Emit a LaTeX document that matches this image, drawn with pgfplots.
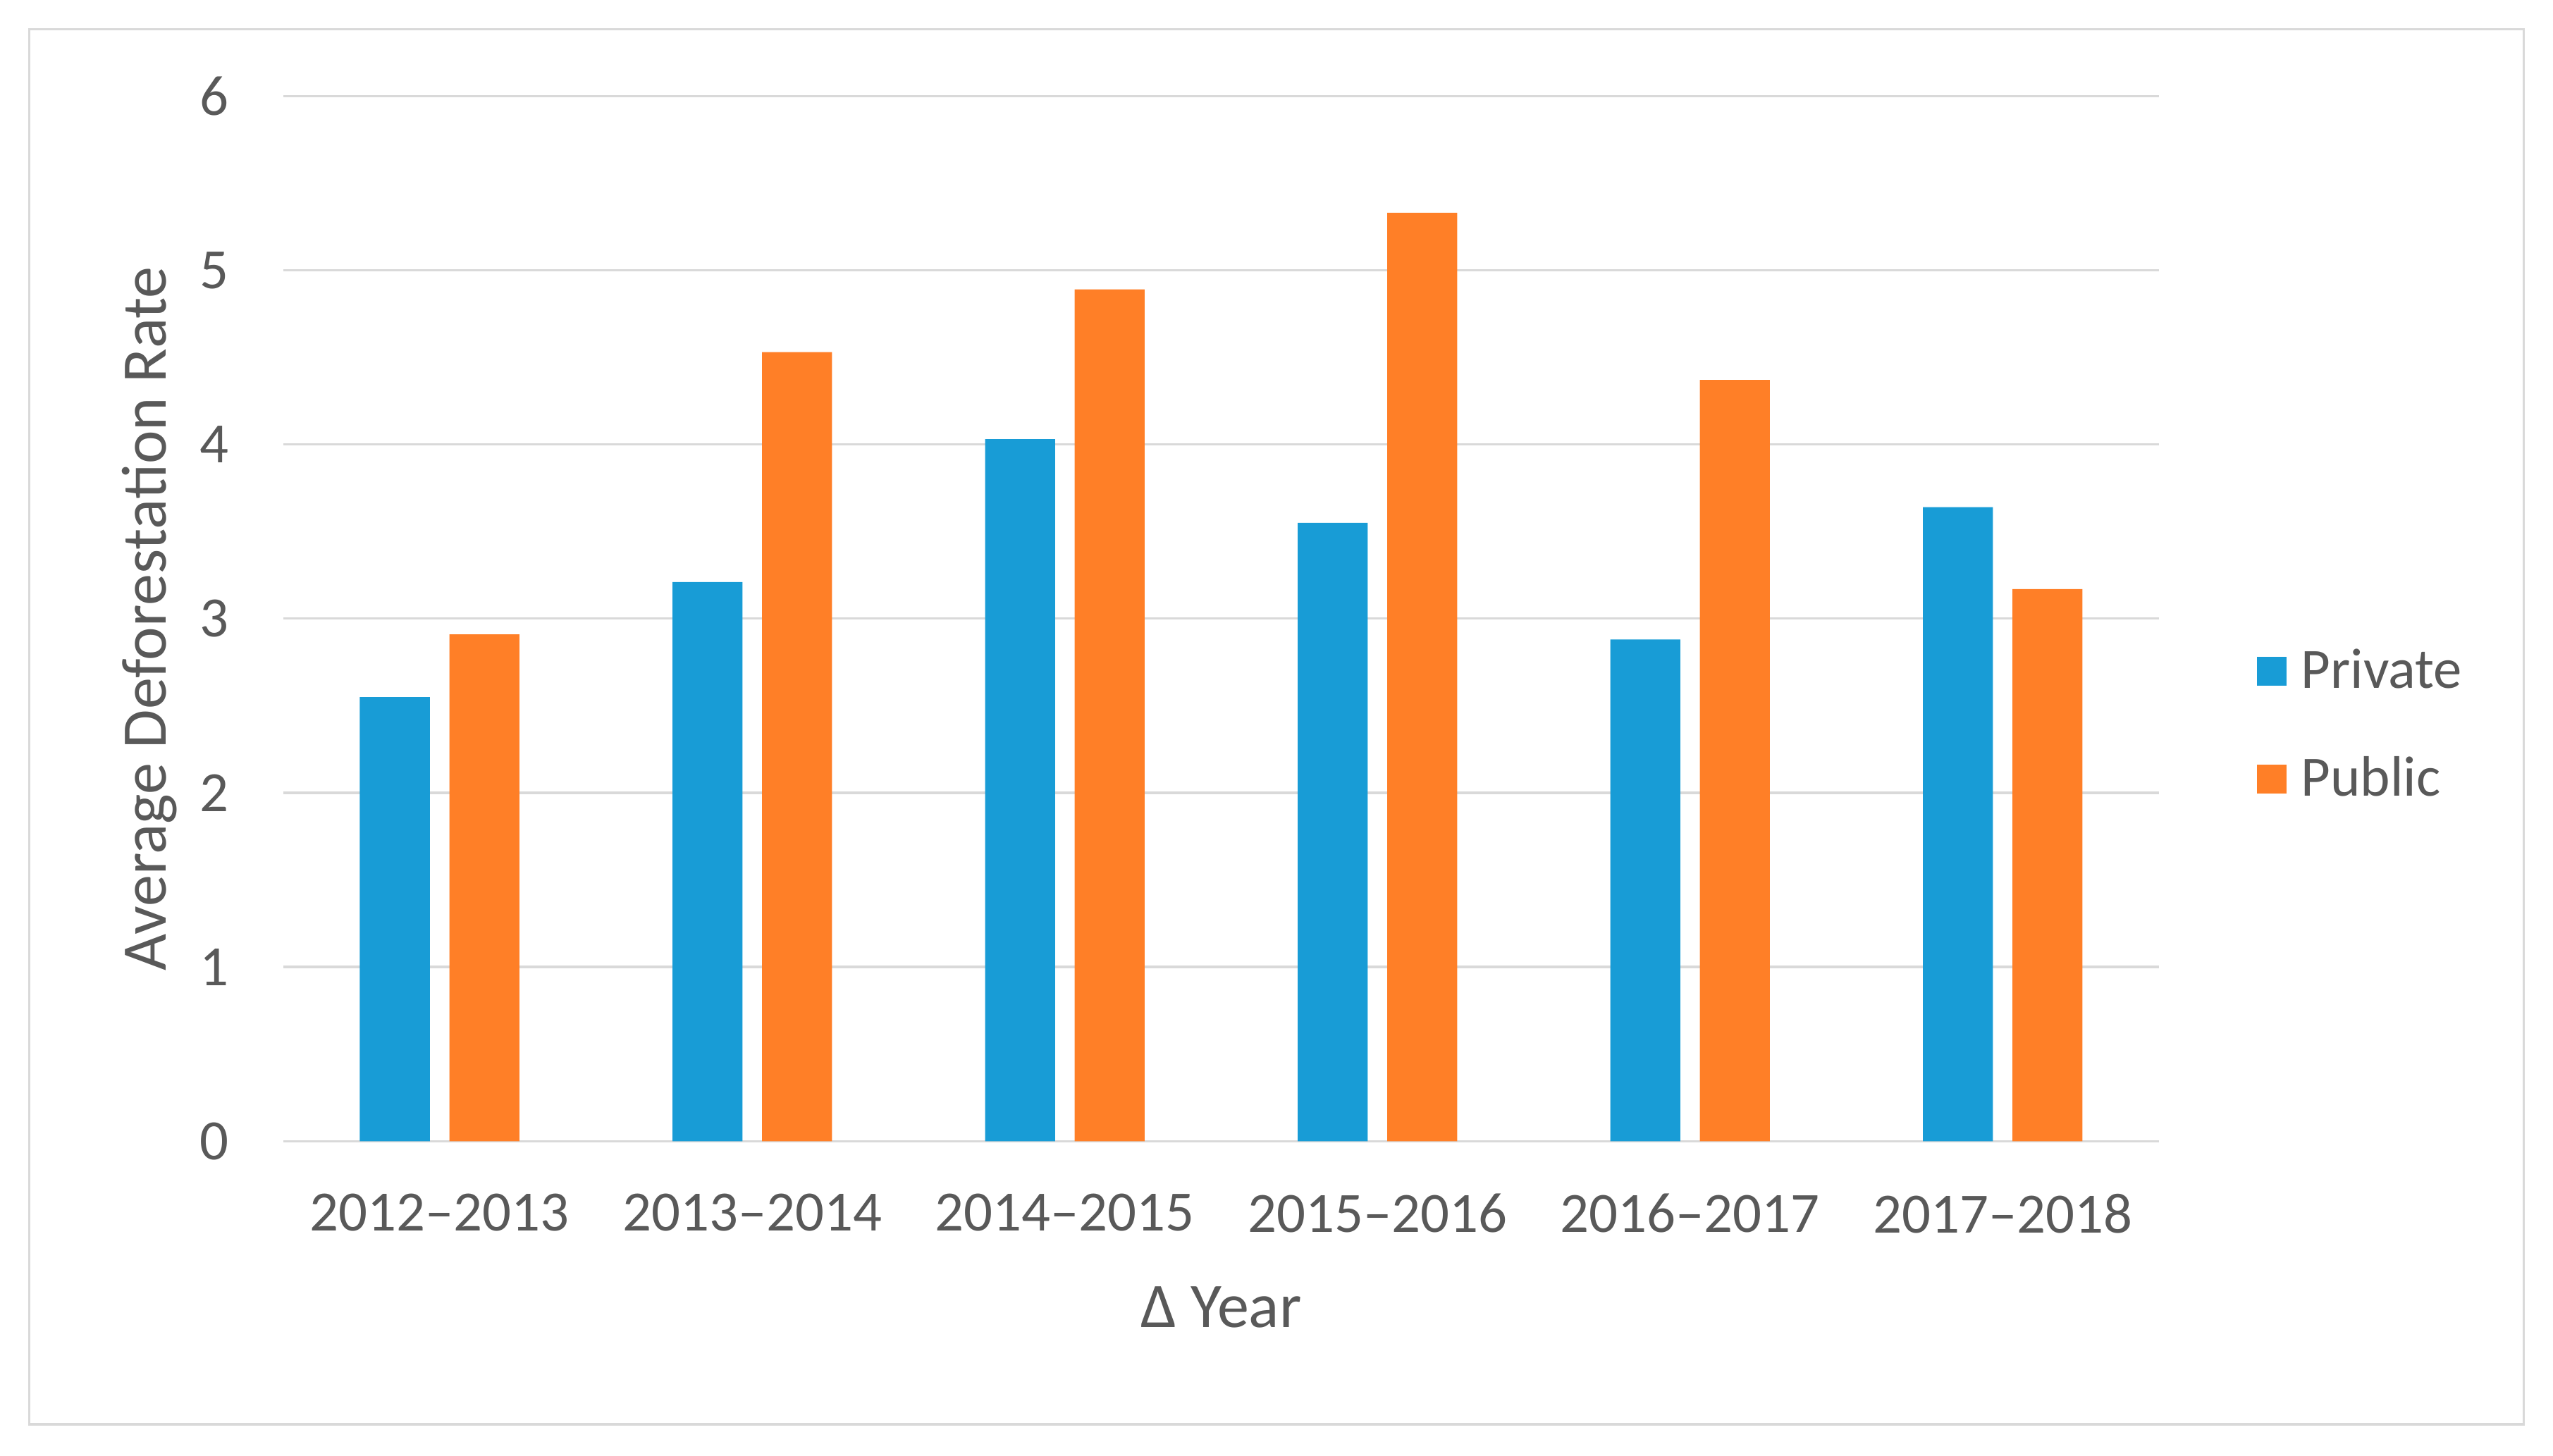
\documentclass[border=0pt]{standalone}
\usepackage{fontspec}
\setmainfont{Carlito}
\usepackage{pgfplots}
\pgfplotsset{compat=1.18}
\definecolor{privblue}{RGB}{24,156,214}
\definecolor{pubor}{RGB}{255,127,39}
\definecolor{gridgray}{RGB}{217,217,217}
\definecolor{txtgray}{RGB}{89,89,89}
\begin{document}
\begin{tikzpicture}
\useasboundingbox (-87pt,-96.5pt) rectangle (697pt,350.5pt);
\draw[gridgray, line width=0.8pt] (-78pt,-87pt) rectangle (688pt,341.5pt);
\begin{axis}[
  at={(0,0)}, anchor=south west,
  scale only axis,
  width=576pt, height=321pt,
  ybar=6pt, bar width=21.5pt,
  xmin=-0.5, xmax=5.5,
  ymin=0, ymax=6,
  ytick={0,1,2,3,4,5,6},
  xtick={0,1,2,3,4,5},
  xticklabels={2012--2013,2013--2014,2014--2015,2015--2016,2016--2017,2017--2018},
  axis line style={draw=none},
  major tick length=0pt,
  ymajorgrids,
  grid style={gridgray, line width=0.7pt},
  /pgf/number format/assume math mode=true,
  tick label style={font=\fontsize{17.5}{20}\selectfont, text=txtgray},
  yticklabel style={anchor=east, inner sep=0pt, xshift=-16.5pt},
  xticklabel style={anchor=north, inner sep=0pt, yshift=-16pt},
  xlabel={Δ Year},
  ylabel={Average Deforestation Rate},
  label style={font=\fontsize{19.5}{23}\selectfont, text=txtgray},
  xlabel style={at={(axis description cs:0.5,0)}, anchor=center, yshift=-51pt},
  ylabel style={at={(axis description cs:0,0.5)}, anchor=center, yshift=41pt},
  legend style={at={(rel axis cs:1.052,0.398)}, anchor=west, draw=none, fill=none,
    font=\fontsize{17.5}{20}\selectfont, text=txtgray, row sep=15.5pt,
    inner sep=0pt, cells={anchor=west}},
  legend image code/.code={\fill[#1] (0pt,-4.5pt) rectangle (9pt,4.5pt); \path (11.5pt,0pt);},
  legend cell align=left,
]
\addplot[fill=privblue, draw=none] coordinates {(0,2.55) (1,3.21) (2,4.03) (3,3.55) (4,2.88) (5,3.64)};
\addplot[fill=pubor, draw=none] coordinates {(0,2.91) (1,4.53) (2,4.89) (3,5.33) (4,4.37) (5,3.17)};
\legend{Private, Public}
\end{axis}
\end{tikzpicture}
\end{document}
